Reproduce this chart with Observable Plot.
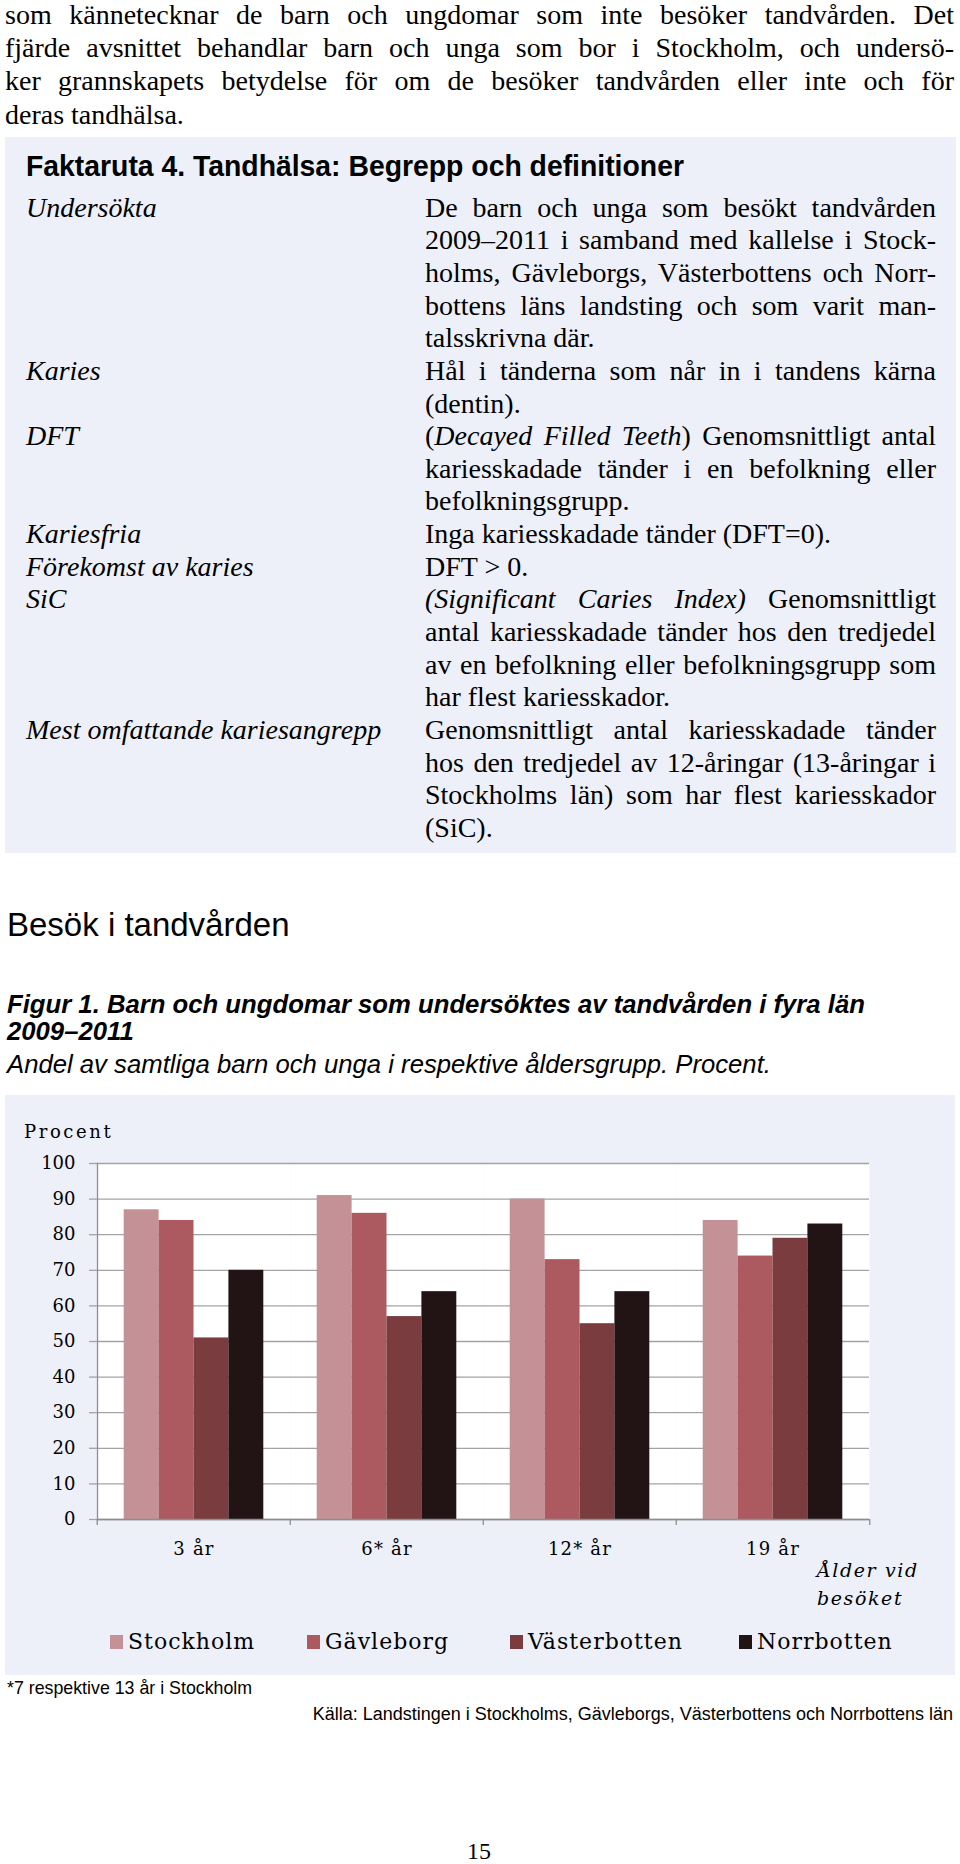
<!DOCTYPE html>
<html><head><meta charset="utf-8">
<script src="https://cdn.jsdelivr.net/npm/d3@7"></script>
<script src="https://cdn.jsdelivr.net/npm/@observablehq/plot@0.6"></script>
<style>
html,body{margin:0;padding:0;background:#fff;}
body{width:960px;height:1864px;position:relative;overflow:hidden;color:#000;}
.abs{position:absolute;}
.serif{font-family:"Liberation Serif","Times New Roman",serif;}
.sans{font-family:"Liberation Sans",Arial,sans-serif;}
.narrow{font-family:"Liberation Sans Narrow","Arial Narrow","Liberation Sans",sans-serif;}
.jl{text-align:justify;text-align-last:justify;}
.ll{text-align:left;}
.box{background:#edf0f8;}
.row{display:flex;}
.term{width:399px;font-style:italic;flex:none;}
.def{width:511px;flex:none;}
.cs{font-family:"DejaVu Serif",serif;}
#legend{position:absolute;left:110px;top:1628px;font-family:"DejaVu Serif",serif;font-size:22px;line-height:28px;}
#legend .item{display:flex;align-items:center;position:absolute;white-space:nowrap;}
#legend .sw{width:13px;height:14px;margin-right:5px;}
</style></head><body>

<div class="abs serif" style="left:5px;top:-2px;width:949px;font-size:28px;line-height:33.2px;">
<div class="jl">som kännetecknar de barn och ungdomar som inte besöker tandvården. Det</div>
<div class="jl">fjärde avsnittet behandlar barn och unga som bor i Stockholm, och undersö-</div>
<div class="jl">ker grannskapets betydelse för om de besöker tandvården eller inte och för</div>
<div class="ll">deras tandhälsa.</div>
</div>

<div class="abs box" style="left:5px;top:137px;width:951px;height:716px;"></div>
<div class="abs narrow" style="left:26px;top:148px;font-size:30px;line-height:36px;font-weight:bold;white-space:nowrap;transform:scaleX(0.945);transform-origin:0 0;">Faktaruta 4. Tandhälsa: Begrepp och definitioner</div>

<div class="abs serif" style="left:26px;top:191.7px;font-size:28px;line-height:32.64px;">
<div class="row"><div class="term">Undersökta</div><div class="def">
<div class="jl">De barn och unga som besökt tandvården</div>
<div class="jl">2009–2011 i samband med kallelse i Stock-</div>
<div class="jl">holms, Gävleborgs, Västerbottens och Norr-</div>
<div class="jl">bottens läns landsting och som varit man-</div>
<div class="ll">talsskrivna där.</div></div></div>
<div class="row"><div class="term">Karies</div><div class="def">
<div class="jl">Hål i tänderna som når in i tandens kärna</div>
<div class="ll">(dentin).</div></div></div>
<div class="row"><div class="term">DFT</div><div class="def">
<div class="jl">(<i>Decayed Filled Teeth</i>) Genomsnittligt antal</div>
<div class="jl">kariesskadade tänder i en befolkning eller</div>
<div class="ll">befolkningsgrupp.</div></div></div>
<div class="row"><div class="term">Kariesfria</div><div class="def">
<div class="ll">Inga kariesskadade tänder (DFT=0).</div></div></div>
<div class="row"><div class="term">Förekomst av karies</div><div class="def">
<div class="ll">DFT &gt; 0.</div></div></div>
<div class="row"><div class="term">SiC</div><div class="def">
<div class="jl"><i>(Significant Caries Index)</i> Genomsnittligt</div>
<div class="jl">antal kariesskadade tänder hos den tredjedel</div>
<div class="jl">av en befolkning eller befolkningsgrupp som</div>
<div class="ll">har flest kariesskador.</div></div></div>
<div class="row"><div class="term">Mest omfattande kariesangrepp</div><div class="def">
<div class="jl">Genomsnittligt antal kariesskadade tänder</div>
<div class="jl">hos den tredjedel av 12-åringar (13-åringar i</div>
<div class="jl">Stockholms län) som har flest kariesskador</div>
<div class="ll">(SiC).</div></div></div>
</div>

<div class="abs sans" style="left:7px;top:906px;font-size:33px;line-height:38px;white-space:nowrap;">Besök i tandvården</div>
<div class="abs narrow" style="left:7px;top:991px;font-size:25.7px;line-height:27px;font-weight:bold;font-style:italic;white-space:nowrap;">Figur 1. Barn och ungdomar som undersöktes av tandvården i fyra län<br>2009–2011</div>
<div class="abs narrow" style="left:7px;top:1050px;font-size:25.7px;line-height:28px;font-style:italic;white-space:nowrap;">Andel av samtliga barn och unga i respektive åldersgrupp. Procent.</div>

<div class="abs box" style="left:5px;top:1095px;width:950px;height:580px;"></div>
<div id="chart" class="abs" style="left:5px;top:1095px;"></div>
<div class="abs cs" style="left:24px;top:1120px;font-size:18px;line-height:24px;letter-spacing:2.6px;white-space:nowrap;">Procent</div>
<div class="abs cs" style="left:817px;top:1556px;font-size:19px;line-height:28px;font-style:italic;letter-spacing:1.6px;white-space:nowrap;">Ålder vid<br>besöket</div>
<div id="legend"></div>

<div class="abs narrow" style="left:7px;top:1677px;font-size:17.8px;line-height:22px;white-space:nowrap;">*7 respektive 13 år i Stockholm</div>
<div class="abs narrow" style="right:7px;top:1703px;font-size:18px;line-height:22px;white-space:nowrap;">Källa: Landstingen i Stockholms, Gävleborgs, Västerbottens och Norrbottens län</div>
<div class="abs serif" style="left:0;width:958px;text-align:center;top:1837px;font-size:24px;line-height:28px;">15</div>

<script>
// ---- Data ----
const ages = ["3 år", "6* år", "12* år", "19 år"];
const counties = ["Stockholm", "Gävleborg", "Västerbotten", "Norrbotten"];
const stockholm = [87, 91, 90, 84];
const gavleborg = [84, 86, 73, 74];
const vasterbotten = [51, 57, 55, 79];
const norrbotten = [70, 64, 64, 83];
const countyColors = ["#c49196", "#ac5a5f", "#7a3c3f", "#221315"];
const yTicks = [0, 10, 20, 30, 40, 50, 60, 70, 80, 90, 100];

const seriesValues = [stockholm, gavleborg, vasterbotten, norrbotten];
const data = counties.flatMap((c, ci) => ages.map((a, ai) => ({age: a, county: c, value: seriesValues[ci][ai]})));

const W = 950, H = 470;
const mL = 91, mR = 85, mT = 68, mB = 46;
const halfFacet = (W - mL - mR) / ages.length / 2;
const gridColor = "#a3a3a3";
const axisColor = "#8e8e8e";

const chart = Plot.plot({
  width: W, height: H,
  marginLeft: mL, marginRight: mR, marginTop: mT, marginBottom: mB,
  style: {background: "none", fontFamily: "DejaVu Serif, serif", fontSize: "18px", color: "#000", overflow: "visible"},
  fx: {domain: ages, padding: 0, label: null, axis: null},
  x: {domain: counties, paddingInner: 0, paddingOuter: 0.765, axis: null, round: false},
  y: {domain: [0, 100], label: null, axis: null},
  color: {domain: counties, range: countyColors},
  marks: [
    Plot.frame({fill: "white", stroke: "none"}),
    Plot.ruleY(yTicks, {stroke: gridColor, strokeWidth: 1.3}),
    Plot.barY(data, {fx: "age", x: "county", y: "value", fill: "county"}),
    Plot.ruleY([0], {stroke: axisColor, strokeWidth: 1.3}),
    Plot.frame({anchor: "left", facetAnchor: "left", stroke: axisColor, strokeWidth: 1.3}),
    Plot.axisY({ticks: yTicks, tickSize: 8, tickPadding: 14, stroke: gridColor, strokeWidth: 1.3, label: null}),
    Plot.axisFx({anchor: "bottom", tickSize: 0, tickPadding: 23, label: null}),
    Plot.axisFx({anchor: "bottom", tickSize: 6, tickFormat: null, label: null, dx: -halfFacet, stroke: axisColor, strokeWidth: 1.3}),
    Plot.axisFx({anchor: "bottom", ticks: [ages[ages.length - 1]], tickSize: 6, tickFormat: null, label: null, dx: halfFacet, stroke: axisColor, strokeWidth: 1.3})
  ]
});
document.getElementById("chart").appendChild(chart);
chart.querySelectorAll("[aria-label='fx-axis tick label'] text").forEach(t => t.setAttribute("letter-spacing", "1.2"));

// ---- Legend ----
const legendLefts = [0, 197, 400, 629];
const legend = document.getElementById("legend");
counties.forEach((c, i) => {
  const item = document.createElement("div");
  item.className = "item";
  item.style.left = legendLefts[i] + "px";
  const sw = document.createElement("span");
  sw.className = "sw";
  sw.style.background = countyColors[i];
  const tx = document.createElement("span");
  tx.textContent = c;
  tx.style.letterSpacing = "1px";
  item.appendChild(sw); item.appendChild(tx);
  legend.appendChild(item);
});
</script>
</body></html>
